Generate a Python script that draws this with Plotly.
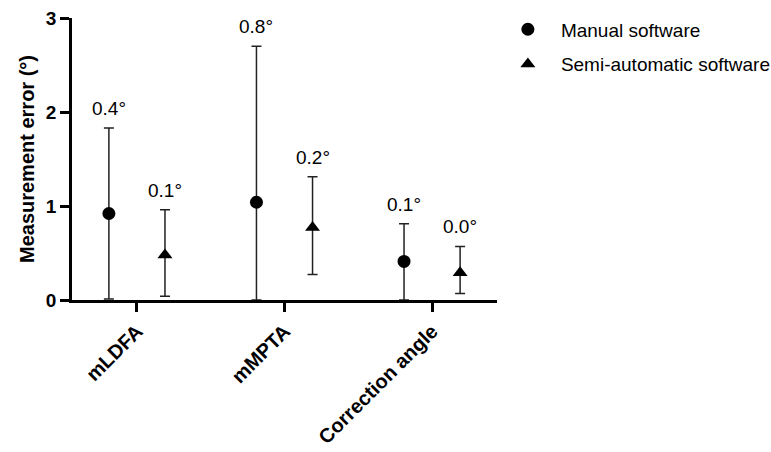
import plotly.graph_objects as go

categories = ["mLDFA", "mMPTA", "Correction angle"]

manual_mean = [0.92, 1.04, 0.41]
manual_upper = [1.83, 2.70, 0.81]
manual_lower = [0.01, 0.00, 0.00]
manual_labels = ["0.4°", "0.8°", "0.1°"]

semi_mean = [0.48, 0.77, 0.29]
semi_upper = [0.96, 1.31, 0.57]
semi_lower = [0.04, 0.27, 0.07]
semi_labels = ["0.1°", "0.2°", "0.0°"]

y_ticks = [0, 1, 2, 3]

FONT = "Liberation Sans, Arial, sans-serif"
GROUP_OFFSET = 0.19

idx = list(range(len(categories)))
x_manual = [i - GROUP_OFFSET for i in idx]
x_semi = [i + GROUP_OFFSET for i in idx]

fig = go.Figure()


def add_series(name, xs, mean, upper, lower, labels, symbol, size):
    fig.add_trace(go.Scatter(
        x=xs, y=mean, mode="markers", name=name, legendgroup=name,
        marker=dict(symbol=symbol, size=size, color="black"),
        error_y=dict(type="data", symmetric=False,
                     array=[u - m for u, m in zip(upper, mean)],
                     arrayminus=[m - l for m, l in zip(mean, lower)],
                     color="#222222", thickness=1.5, width=5),
        cliponaxis=False,
    ))
    for x, u, t in zip(xs, upper, labels):
        fig.add_annotation(x=x, y=u, text=t, showarrow=False,
                           yanchor="bottom", yshift=7,
                           font=dict(family=FONT, size=19, color="black"))


add_series("Manual software", x_manual, manual_mean, manual_upper, manual_lower,
           manual_labels, "circle", 13)
add_series("Semi-automatic software", x_semi, semi_mean, semi_upper, semi_lower,
           semi_labels, "triangle-up", 13)

fig.update_layout(
    width=771, height=452,
    margin=dict(l=72, r=274, t=18, b=152, autoexpand=False),
    plot_bgcolor="white", paper_bgcolor="white",
    font=dict(family=FONT, color="black"),
    showlegend=True,
    legend=dict(x=0.995, y=1.027, xanchor="left", yanchor="top",
                font=dict(family=FONT, size=19, color="black"),
                bgcolor="rgba(0,0,0,0)", itemwidth=56, tracegroupgap=7),
    xaxis=dict(
        range=[-0.44, 2.44], tickmode="array", tickvals=idx, ticktext=categories,
        tickangle=-45, showgrid=False, zeroline=False, automargin=False,
        showline=True, linecolor="black", linewidth=2.5,
        ticks="outside", ticklen=9, tickwidth=2.5, tickcolor="black",
        tickfont=dict(family=FONT, size=20, color="black", weight="bold"),
    ),
    yaxis=dict(
        range=[0, 3], tickmode="array", tickvals=y_ticks, automargin=False,
        showgrid=False, zeroline=False,
        showline=True, linecolor="black", linewidth=2.5,
        ticks="outside", ticklen=9, tickwidth=2.5, tickcolor="black",
        tickfont=dict(family=FONT, size=19, color="black", weight="bold"),
        title=dict(text="Measurement error (°)", standoff=6,
                   font=dict(family=FONT, size=20, color="black", weight="bold")),
    ),
)

fig.write_html("out.html", config={"displayModeBar": False})

# remove the default page margin so the figure sits at the window's top-left
with open("out.html", "r", encoding="utf-8") as f:
    html = f.read()
html = html.replace("<head>", "<head><style>html,body{margin:0;padding:0;}</style>", 1)
with open("out.html", "w", encoding="utf-8") as f:
    f.write(html)
